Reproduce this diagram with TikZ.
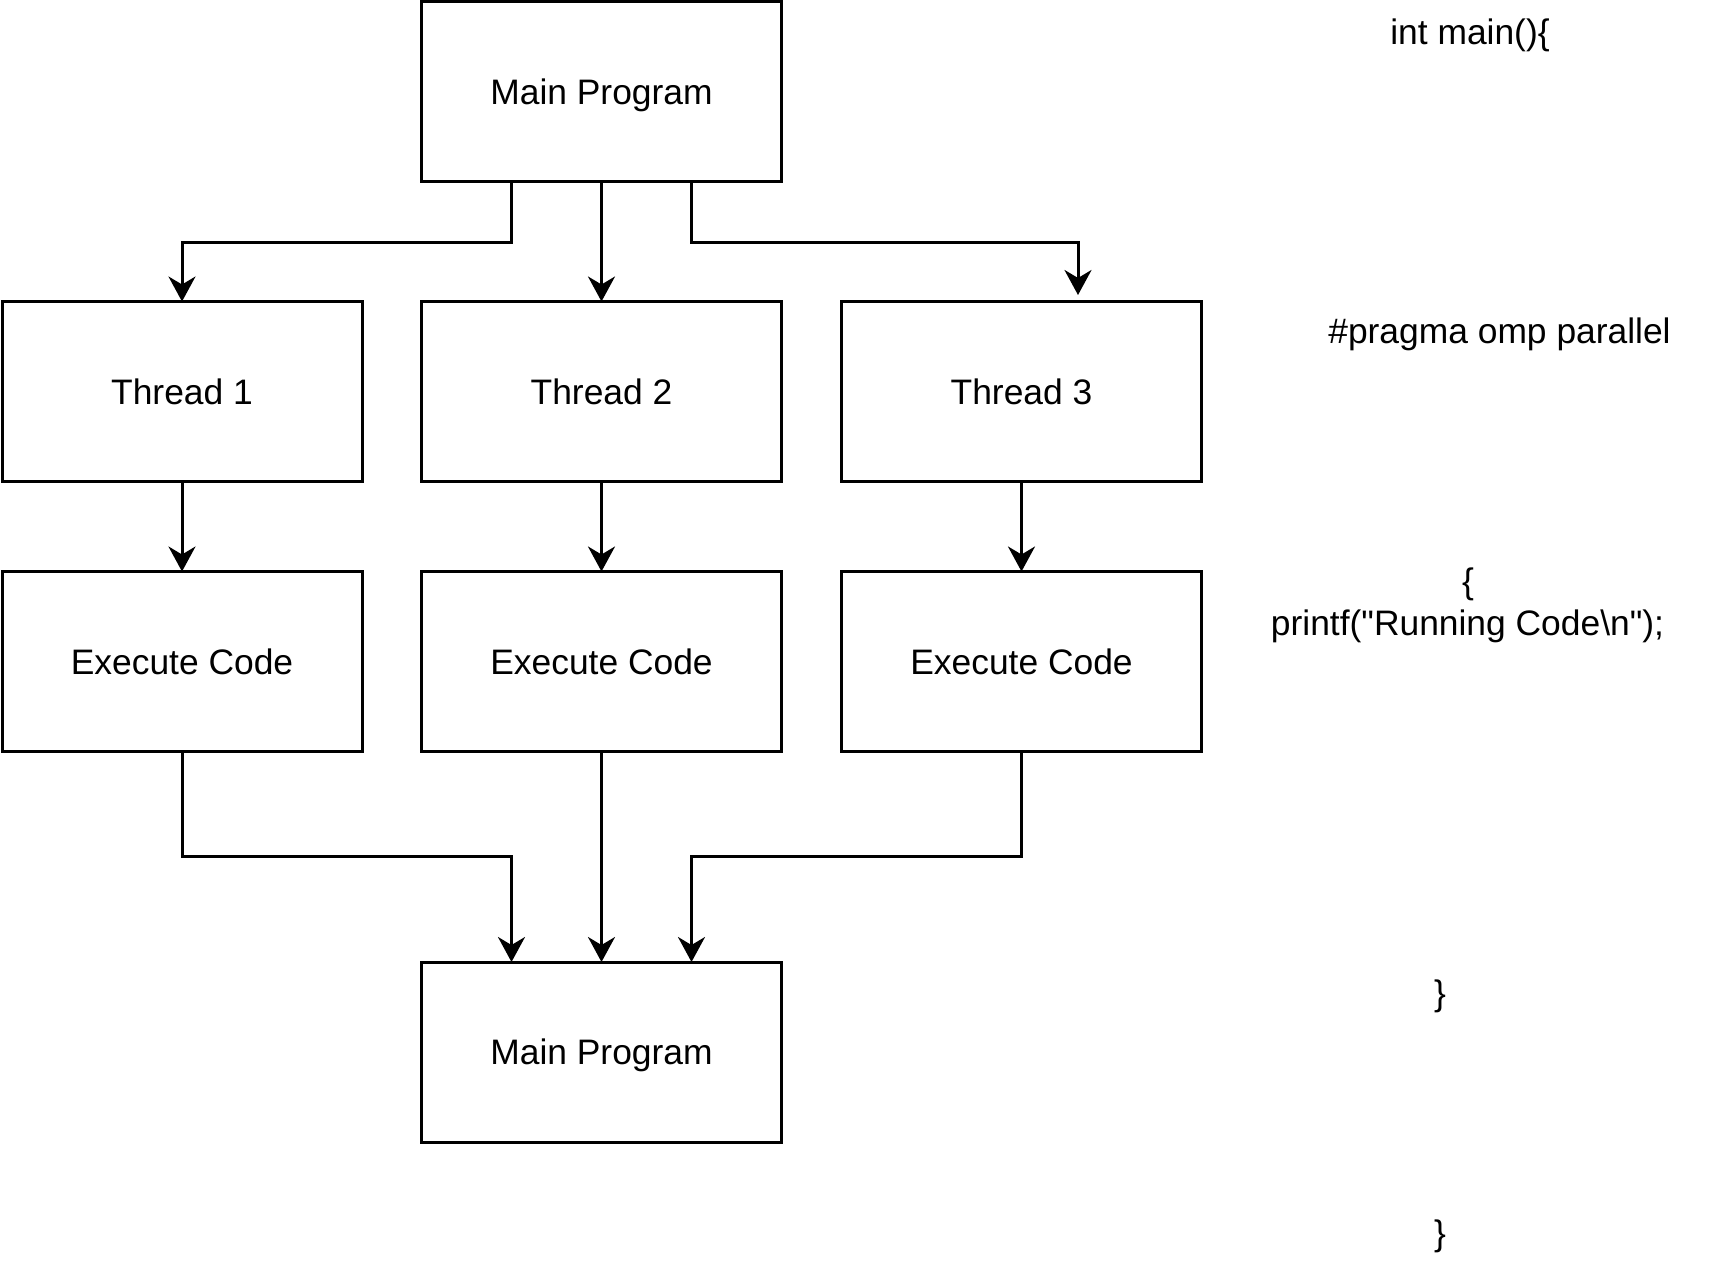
\documentclass[tikz,border=0pt]{standalone}
\usepackage{fontspec}
\setmainfont{Liberation Sans}
\newfontfamily\codefont{Liberation Sans}
\usetikzlibrary{arrows.meta,calc}
\begin{document}
\begin{tikzpicture}[x=0.5pt,y=-0.5pt,
  box/.style={draw=black,line width=1.5pt,minimum width=180pt,minimum height=90pt,inner sep=0pt,outer sep=0pt,text height=12.7pt,text depth=0pt,font=\fontsize{17.7pt}{21pt}\selectfont},
  arr/.style={draw=black,line width=1.5pt,-{Stealth[length=12.5pt,width=13.5pt,inset=4pt]}},
  code/.style={inner sep=0pt,outer sep=0pt,anchor=base,font=\codefont\fontsize{17.7pt}{21pt}\selectfont}]
\useasboundingbox (0,0) rectangle (1713,1263);
\fill[white] (0,0) rectangle (1713,1263);
% boxes
\node[box] (m1) at (601.5,91.5) {Main Program};
\node[box] (t1) at (182,391.5) {Thread 1};
\node[box] (t2) at (601.5,391.5) {Thread 2};
\node[box] (t3) at (1021.5,391.5) {Thread 3};
\node[box] (e1) at (182,661.5) {Execute Code};
\node[box] (e2) at (601.5,661.5) {Execute Code};
\node[box] (e3) at (1021.5,661.5) {Execute Code};
\node[box] (m2) at (601.5,1052) {Main Program};
% code text
\node[code] (c1) at (1470,45) {int main()\{};
\node[code] (c2) at (1499.5,343) {\#pragma omp parallel};
\node[code] (c3) at (1468,593) {\{};
\node[code] (c4) at (1467.5,635) {printf("Running Code\textbackslash n");};
\node[code] (c5) at (1440,1005) {\}};
\node[code] (c6) at (1440,1245) {\}};
% junctions
\coordinate (j1) at (182,242);
\coordinate (j3) at (1078,242);
\coordinate (j3end) at (1078,295);
\coordinate (k1) at (511.5,856.5);
\coordinate (k3) at (691.5,856.5);
% connectors
\draw[arr] ([xshift=-45pt]m1.south) |- (j1) -- (t1.north);
\draw[arr] (m1.south) -- (t2.north);
\draw[arr] ([xshift=45pt]m1.south) |- (j3) -- (j3end);
\draw[arr] (t1.south) -- (e1.north);
\draw[arr] (t2.south) -- (e2.north);
\draw[arr] (t3.south) -- (e3.north);
\draw[arr] (e1.south) |- (k1) -- ([xshift=-45pt]m2.north);
\draw[arr] (e2.south) -- (m2.north);
\draw[arr] (e3.south) |- (k3) -- ([xshift=45pt]m2.north);
\end{tikzpicture}
\end{document}
